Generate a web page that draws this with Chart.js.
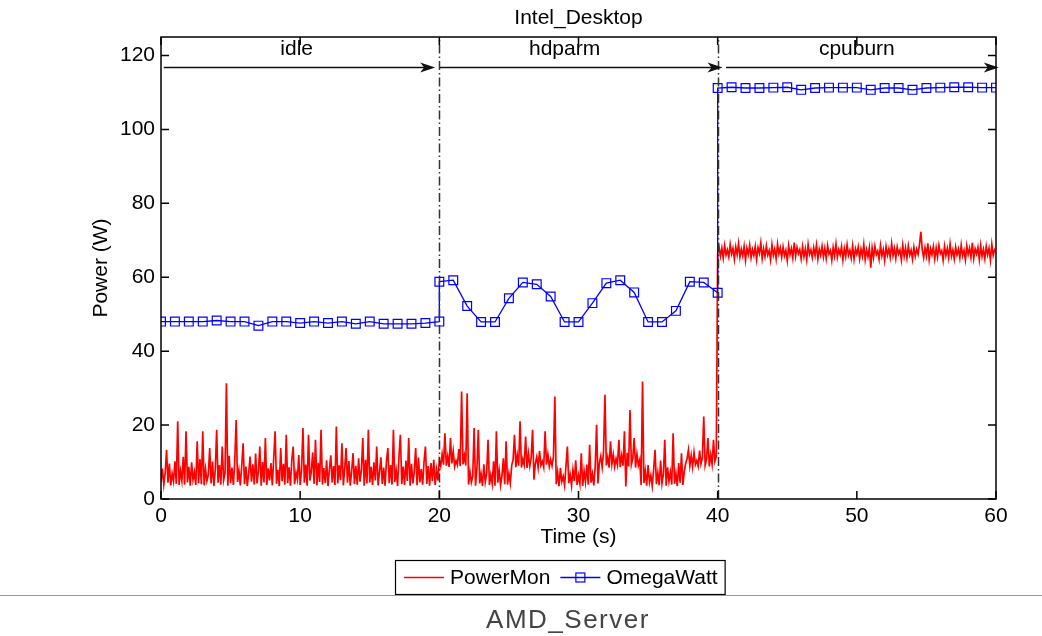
<!DOCTYPE html>
<html>
<head>
<meta charset="utf-8">
<title>Intel_Desktop power</title>
<script src="https://cdn.jsdelivr.net/npm/chart.js@4.4.0/dist/chart.umd.min.js"></script>
<style>
  html, body { margin: 0; padding: 0; background: #fff; }
  #wrap { position: relative; width: 1042px; height: 636px; overflow: hidden; }
  #chart { position: absolute; left: 0; top: 0; }
  #rule { position: absolute; left: 0; top: 595px; width: 1042px; height: 1px; background: #999; }
  #caption {
    position: absolute; left: 568px; top: 606px; transform: translateX(-50%);
    font: 26px/26px "Liberation Sans", Arial, sans-serif; letter-spacing: 1.5px;
    color: #444; white-space: nowrap;
  }
</style>
</head>
<body>
<div id="wrap">
  <canvas id="chart" width="1042" height="636"></canvas>
  <div id="rule"></div>
  <div id="caption">AMD_Server</div>
</div>
<script>
// PowerMon samples every 0.1 s, one array per benchmark phase
const sampleStep = 0.1;
const phaseStarts = [0, 20, 40];
const phaseNames = ["idle", "hdparm", "cpuburn"];

const powerMonIdle = [
  4.6, 8.2, 3.9, 7.1, 13.3, 4.4, 9.6, 3.7, 6.9, 4.8,
  10.2, 4.1, 21.0, 3.8, 7.6, 5.0, 11.4, 3.9, 18.3, 4.5,
  8.7, 3.6, 9.9, 5.2, 7.3, 3.8, 15.6, 4.3, 10.8, 4.0,
  18.3, 3.7, 8.1, 4.9, 6.6, 13.8, 4.2, 10.1, 3.5, 7.8,
  18.7, 4.4, 9.2, 3.9, 14.2, 5.1, 7.0, 31.3, 3.6, 11.7,
  4.3, 8.5, 3.8, 10.4, 21.4, 4.6, 7.7, 3.7, 9.0, 15.1,
  4.0, 8.8, 3.5, 6.9, 11.5, 4.7, 9.4, 3.9, 12.3, 4.2,
  7.5, 14.2, 3.6, 10.0, 4.5, 16.5, 3.8, 8.3, 5.0, 9.7,
  3.7, 11.1, 18.3, 4.1, 7.9, 3.5, 13.8, 4.8, 9.5, 3.9,
  17.4, 4.3, 8.6, 3.6, 10.7, 14.2, 4.0, 7.2, 5.3, 11.9,
  3.8, 8.0, 19.2, 4.4, 9.3, 3.6, 17.4, 5.0, 7.4, 12.6,
  4.1, 16.0, 3.7, 9.8, 4.6, 18.7, 3.9, 8.4, 4.3, 10.5,
  3.5, 7.9, 11.8, 4.5, 8.9, 3.8, 19.6, 4.2, 9.1, 5.1,
  15.1, 3.7, 8.2, 13.8, 4.4, 10.3, 3.6, 7.6, 12.4, 4.0,
  9.0, 3.9, 11.0, 4.7, 7.8, 16.5, 3.6, 10.6, 4.2, 18.7,
  4.5, 8.7, 3.8, 9.9, 5.0, 14.2, 3.7, 7.3, 11.3, 4.1,
  8.5, 3.6, 10.1, 13.8, 4.3, 9.2, 3.9, 18.7, 4.6, 7.7,
  3.5, 11.6, 17.4, 4.0, 8.8, 3.8, 10.4, 4.9, 16.5, 3.6,
  9.5, 4.2, 7.5, 13.8, 3.7, 11.2, 4.5, 8.1, 3.9, 10.0,
  14.2, 4.1, 8.9, 3.6, 9.7, 4.8, 10.6, 3.8, 7.9, 5.0
];

const powerMonHdparm = [
  10.5, 8.9, 12.2, 9.3, 17.8, 9.0, 11.6, 8.7, 16.5, 9.6,
  12.9, 8.8, 10.4, 9.2, 13.5, 8.9, 29.1, 9.4, 11.8, 9.0,
  28.6, 3.9, 7.4, 4.5, 6.2, 19.2, 3.6, 8.1, 18.7, 4.2,
  6.8, 3.5, 9.4, 4.6, 7.0, 16.0, 3.8, 6.5, 4.1, 10.2,
  3.6, 18.3, 4.4, 7.7, 3.7, 6.3, 11.0, 4.0, 15.6, 3.9,
  6.9, 4.3, 9.1, 10.6, 17.4, 8.6, 11.9, 9.0, 21.0, 8.5,
  10.8, 9.2, 16.9, 8.4, 12.3, 8.9, 11.1, 18.7, 5.2, 9.6,
  11.4, 8.5, 13.0, 9.1, 10.2, 8.6, 18.3, 9.3, 12.1, 8.8,
  10.7, 9.0, 11.5, 27.7, 4.0, 7.2, 3.5, 8.4, 4.7, 6.1,
  3.7, 9.0, 14.2, 4.3, 6.6, 3.6, 7.9, 4.9, 10.5, 3.8,
  6.4, 4.1, 12.4, 3.5, 7.6, 4.6, 9.3, 3.9, 14.7, 4.4,
  6.8, 3.7, 8.9, 20.1, 4.2, 9.8, 11.6, 8.6, 12.8, 28.2,
  9.1, 11.3, 8.5, 15.6, 9.4, 12.0, 8.7, 10.9, 9.2, 16.0,
  8.6, 11.7, 9.0, 18.3, 3.4, 12.5, 8.8, 24.1, 9.3, 11.0,
  16.5, 8.5, 12.2, 9.1, 10.6, 3.8, 31.8, 4.3, 7.5, 3.6,
  9.2, 4.5, 6.4, 3.5, 8.0, 13.3, 4.0, 7.1, 3.7, 10.4,
  4.2, 6.7, 16.0, 3.6, 8.6, 4.8, 7.3, 3.9, 17.8, 4.1,
  6.9, 3.5, 9.7, 4.4, 12.4, 3.8, 7.4, 9.6, 10.9, 13.3,
  9.0, 11.8, 8.7, 12.6, 9.3, 10.4, 8.9, 13.1, 9.5, 11.2,
  22.3, 9.1, 10.8, 16.5, 8.8, 12.0, 9.4, 16.0, 10.2, 11.5
];

const powerMonCpuburn = [
  66.4, 68.1, 65.7, 67.9, 65.2, 68.6, 66.0, 67.4, 65.5, 68.9,
  66.3, 67.8, 64.9, 68.2, 66.1, 69.1, 65.4, 67.6, 65.8, 68.4,
  64.6, 67.9, 66.2, 68.7, 65.3, 67.5, 65.9, 68.3, 64.8, 68.0,
  66.5, 69.3, 65.1, 67.7, 65.6, 68.5, 66.0, 67.2, 64.7, 68.8,
  65.9, 67.6, 65.0, 69.0, 66.3, 67.9, 65.4, 68.2, 65.8, 67.3,
  64.5, 68.6, 66.1, 67.8, 65.2, 69.4, 65.7, 68.1, 66.4, 67.5,
  65.0, 68.3, 65.6, 67.7, 64.8, 68.9, 66.2, 67.4, 65.3, 68.0,
  65.9, 68.7, 64.9, 67.6, 66.0, 68.4, 65.5, 67.9, 65.1, 68.6,
  66.3, 67.2, 64.6, 68.1, 65.8, 69.0, 65.4, 67.5, 66.1, 68.3,
  64.7, 67.8, 65.6, 68.8, 66.0, 67.3, 65.2, 68.5, 64.9, 67.7,
  66.2, 68.2, 65.0, 67.6, 65.7, 68.9, 64.8, 67.4, 65.5, 68.0,
  62.6, 67.9, 65.3, 68.4, 66.1, 67.1, 64.9, 68.6, 65.8, 67.5,
  64.6, 68.3, 66.0, 67.7, 65.4, 69.1, 65.9, 67.8, 65.1, 68.2,
  66.3, 67.4, 64.7, 68.7, 65.6, 67.9, 65.2, 68.5, 66.0, 67.3,
  64.9, 68.1, 65.7, 67.6, 66.2, 68.8, 72.3, 67.5, 65.3, 68.0,
  65.8, 69.2, 64.8, 67.7, 66.1, 68.3, 65.0, 67.9, 65.5, 68.6,
  66.4, 67.2, 64.6, 68.4, 65.9, 67.8, 65.3, 69.0, 65.7, 67.4,
  64.9, 68.2, 66.0, 67.6, 65.2, 68.7, 65.8, 67.3, 64.7, 68.5,
  66.2, 67.9, 65.4, 69.3, 65.1, 67.7, 66.3, 68.1, 64.8, 68.6,
  65.6, 67.5, 65.0, 68.4, 66.1, 67.8, 64.6, 68.9, 65.9, 67.4,
  66.8
];

// OmegaWatt reads once per second; the meter reports twice at each phase switch
const omegaTime = [
  0, 1, 2, 3, 4, 5, 6, 7, 8, 9, 10, 11, 12, 13, 14, 15, 16, 17, 18, 19, 20,
  20, 21, 22, 23, 24, 25, 26, 27, 28, 29, 30, 31, 32, 33, 34, 35, 36, 37, 38, 39, 40,
  40, 41, 42, 43, 44, 45, 46, 47, 48, 49, 50, 51, 52, 53, 54, 55, 56, 57, 58, 59, 60
];
const omegaWatt = [
  48.0, 48.0, 48.0, 48.0, 48.3, 48.0, 48.0, 46.9, 48.0, 48.0, 47.6, 48.0, 47.6, 48.0, 47.4, 48.0, 47.4, 47.4, 47.4, 47.6, 48.0,
  58.8, 59.2, 52.2, 47.9, 47.9, 54.3, 58.6, 58.1, 54.8, 47.9, 47.9, 53.0, 58.4, 59.2, 55.9, 47.9, 47.9, 50.9, 58.8, 58.6, 55.8,
  111.2, 111.4, 111.2, 111.2, 111.3, 111.4, 110.7, 111.2, 111.3, 111.3, 111.3, 110.7, 111.2, 111.2, 110.7, 111.2, 111.3, 111.4, 111.4, 111.3, 111.3
];

const xTicks = [0, 10, 20, 30, 40, 50, 60];
const yTicks = [0, 20, 40, 60, 80, 100, 120];

const FONT = '"Liberation Sans", Arial, Helvetica, sans-serif';

const powerMonPoints = [powerMonIdle, powerMonHdparm, powerMonCpuburn].flatMap((vals, p) =>
  vals.map((w, i) => ({ x: Math.round((phaseStarts[p] + i * sampleStep) * 10) / 10, y: w }))
);
const omegaPoints = omegaTime.map((t, i) => ({ x: t, y: omegaWatt[i] }));

// phase markers: dash-dot separators, arrows and names above the curves
const phaseArrows = [[0.2, 19.7], [20.05, 40.35], [40.6, 60.2]];
const phaseLabelX = [9.75, 29.0, 50];
const arrowY = 116.9;
const labelY = 120.1;

function drawArrow(ctx, x1, x2, y) {
  ctx.beginPath();
  ctx.moveTo(x1, y);
  ctx.lineTo(x2 - 8, y);
  ctx.stroke();
  ctx.beginPath();
  ctx.moveTo(x2, y);
  ctx.lineTo(x2 - 15, y - 5);
  ctx.lineTo(x2 - 11, y);
  ctx.lineTo(x2 - 15, y + 5);
  ctx.closePath();
  ctx.fill();
}

const matlabFrame = {
  id: "matlabFrame",
  afterDatasetsDraw(chart) {
    const { ctx, chartArea: a, scales: { x, y } } = chart;
    ctx.save();
    // phase separators
    ctx.strokeStyle = "#333";
    ctx.lineWidth = 1.5;
    ctx.setLineDash([9, 3, 1.5, 3]);
    phaseStarts.slice(1).forEach(t => {
      const px = Math.round(x.getPixelForValue(t)) + 0.5;
      ctx.beginPath();
      ctx.moveTo(px, a.bottom);
      ctx.lineTo(px, a.top);
      ctx.stroke();
    });
    ctx.setLineDash([]);
    ctx.strokeStyle = "#111";
    ctx.fillStyle = "#111";
    ctx.lineWidth = 1.5;
    const ay = Math.round(y.getPixelForValue(arrowY)) + 0.5;
    phaseArrows.forEach(([s, e]) => drawArrow(ctx, x.getPixelForValue(s), x.getPixelForValue(e), ay));
    ctx.fillStyle = "#000";
    ctx.font = "21px " + FONT;
    ctx.textAlign = "center";
    ctx.textBaseline = "alphabetic";
    phaseNames.forEach((name, i) => {
      ctx.fillText(name, x.getPixelForValue(phaseLabelX[i]), y.getPixelForValue(labelY));
    });
    ctx.restore();
  },
  afterDraw(chart) {
    const { ctx, chartArea: a, scales: { x, y } } = chart;
    ctx.save();
    // axes box with inward ticks on all four sides
    ctx.strokeStyle = "#000";
    ctx.lineWidth = 1.5;
    ctx.strokeRect(a.left, a.top, a.right - a.left, a.bottom - a.top);
    const tl = 8;
    ctx.beginPath();
    x.ticks.forEach(t => {
      const px = x.getPixelForValue(t.value);
      ctx.moveTo(px, a.bottom); ctx.lineTo(px, a.bottom - tl);
      ctx.moveTo(px, a.top); ctx.lineTo(px, a.top + tl);
    });
    y.ticks.forEach(t => {
      const py = y.getPixelForValue(t.value);
      ctx.moveTo(a.left, py); ctx.lineTo(a.left + tl, py);
      ctx.moveTo(a.right, py); ctx.lineTo(a.right - tl, py);
    });
    ctx.stroke();

    // title
    ctx.fillStyle = "#000";
    ctx.font = "21px " + FONT;
    ctx.textAlign = "center";
    ctx.textBaseline = "alphabetic";
    ctx.fillText("Intel_Desktop", (a.left + a.right) / 2, 24);

    // boxed legend under the axis
    const ds = chart.data.datasets;
    const sample = 40, gap = 6, itemGap = 10;
    ctx.font = "21px " + FONT;
    const widths = ds.map(d => ctx.measureText(d.label).width);
    const inner = widths.reduce((s, w) => s + sample + gap + w, 0) + itemGap * (ds.length - 1);
    const boxW = inner + 16, boxH = 34;
    const boxX = Math.round(559.5 - boxW / 2), boxY = 560;
    ctx.lineWidth = 1.2;
    ctx.strokeStyle = "#000";
    ctx.strokeRect(boxX + 0.5, boxY + 0.5, boxW, boxH);
    let cx = boxX + 9;
    const cy = boxY + boxH / 2 + 0.5;
    ds.forEach((d, i) => {
      ctx.strokeStyle = d.borderColor;
      ctx.lineWidth = 1.3;
      ctx.beginPath();
      ctx.moveTo(cx, cy); ctx.lineTo(cx + sample, cy);
      ctx.stroke();
      if (d.pointRadius > 0) {
        const s = 9;
        ctx.lineWidth = d.pointBorderWidth;
        ctx.strokeRect(cx + sample / 2 - s / 2, cy - s / 2, s, s);
      }
      ctx.fillStyle = "#000";
      ctx.textAlign = "left";
      ctx.textBaseline = "middle";
      ctx.fillText(d.label, cx + sample + gap, cy + 1);
      cx += sample + gap + widths[i] + itemGap;
    });
    ctx.restore();
  }
};

const ctx = document.getElementById("chart").getContext("2d");

new Chart(ctx, {
  type: "line",
  data: {
    datasets: [
      {
        label: "PowerMon",
        data: powerMonPoints,
        borderColor: "#ff0000",
        borderWidth: 1.7,
        pointRadius: 0,
        tension: 0,
        order: 2,
      },
      {
        label: "OmegaWatt",
        data: omegaPoints,
        borderColor: "#0000ff",
        borderWidth: 1.3,
        pointStyle: "rect",
        pointRadius: 6.2,
        pointBorderWidth: 1.2,
        pointBorderColor: "#0000ff",
        pointBackgroundColor: "rgba(0,0,0,0)",
        tension: 0,
        order: 1,
      },
    ],
  },
  options: {
    responsive: false,
    animation: false,
    devicePixelRatio: 1,
    layout: { padding: { top: 37, right: 46, bottom: 77, left: 0 } },
    plugins: {
      legend: { display: false },
      tooltip: { enabled: false },
      title: { display: false },
    },
    scales: {
      x: {
        type: "linear",
        min: 0,
        max: 60,
        afterBuildTicks: s => { s.ticks = xTicks.map(v => ({ value: v })); },
        afterFit: s => { s.height = 60; },
        grid: { display: false, drawTicks: false },
        border: { display: false },
        ticks: { color: "#000", padding: 5, font: { family: FONT, size: 21 } },
        title: {
          display: true,
          text: "Time (s)",
          color: "#000",
          font: { family: FONT, size: 21 },
          padding: { top: 0, bottom: 8.7 },
        },
      },
      y: {
        type: "linear",
        min: 0,
        max: 125,
        afterBuildTicks: s => { s.ticks = yTicks.map(v => ({ value: v })); },
        afterFit: s => { s.width = 161; },
        grid: { display: false, drawTicks: false },
        border: { display: false },
        ticks: { color: "#000", padding: 6, font: { family: FONT, size: 21 } },
        title: {
          display: true,
          text: "Power (W)",
          color: "#000",
          font: { family: FONT, size: 21 },
          padding: { top: 89, bottom: 0 },
        },
      },
    },
  },
  plugins: [matlabFrame],
});
</script>
</body>
</html>
